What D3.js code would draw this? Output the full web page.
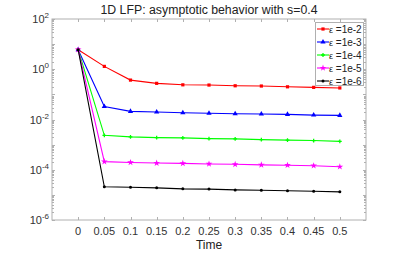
<!DOCTYPE html>
<html>
<head>
<meta charset="utf-8">
<style>
  body { margin: 0; background: #fff; }
  text { font-family: "Liberation Sans", Arial, sans-serif; }
</style>
</head>
<body>
<script src="https://cdn.jsdelivr.net/npm/d3@7"></script>
<script>
var times = [0, 0.05, 0.1, 0.15, 0.2, 0.25, 0.3, 0.35, 0.4, 0.45, 0.5];
var xTicks = [0, 0.05, 0.1, 0.15, 0.2, 0.25, 0.3, 0.35, 0.4, 0.45, 0.5];
var yTicks = [2, 0, -2, -4, -6];
var labels = ["1e-2", "1e-3", "1e-4", "1e-5", "1e-6"];
var colors = ["#ff0000", "#0000ff", "#00ff00", "#ff00ff", "#000000"];
var markers = ["square", "triangle", "cross", "star", "circle"];

var eps2 = [6.0, 1.3, 0.37, 0.275, 0.24, 0.235, 0.22, 0.215, 0.2, 0.19, 0.18];
var eps3 = [6.0, 0.033, 0.021, 0.020, 0.0186, 0.0178, 0.017, 0.0166, 0.016, 0.015, 0.0146];
var eps4 = [6.0, 0.00235, 0.00204, 0.0019, 0.00186, 0.00174, 0.0017, 0.00158, 0.00151, 0.00145, 0.00135];
var eps5 = [6.0, 2.1e-4, 1.95e-4, 1.85e-4, 1.8e-4, 1.7e-4, 1.65e-4, 1.57e-4, 1.52e-4, 1.45e-4, 1.32e-4];
var eps6 = [6.0, 2.1e-5, 2.0e-5, 1.9e-5, 1.74e-5, 1.7e-5, 1.58e-5, 1.53e-5, 1.45e-5, 1.4e-5, 1.32e-5];
var series = [eps2, eps3, eps4, eps5, eps6];

var W = 405, H = 253;
var m = {left: 52, right: 39, top: 19, bottom: 33};

var svg = d3.select("body").append("svg")
    .attr("width", W).attr("height", H);

var x = d3.scaleLinear().domain([-0.05, 0.55]).range([m.left, W - m.right]);
var y = d3.scaleLog().domain([1e-6, 1e2]).range([H - m.bottom, m.top]);

var axisCol = "#b0b0b0";
var g = svg.append("g");

// frame
g.append("rect")
    .attr("x", m.left).attr("y", m.top)
    .attr("width", W - m.left - m.right).attr("height", H - m.top - m.bottom)
    .attr("fill", "none").attr("stroke", axisCol).attr("stroke-width", 1);

// x ticks top and bottom
xTicks.forEach(function(t){
  var px = Math.round(x(t)) + 0.5;
  g.append("line").attr("x1", px).attr("x2", px)
    .attr("y1", H - m.bottom).attr("y2", H - m.bottom - 3).attr("stroke", axisCol);
  g.append("line").attr("x1", px).attr("x2", px)
    .attr("y1", m.top).attr("y2", m.top + 3).attr("stroke", axisCol);
  g.append("text").attr("x", x(t)).attr("y", H - m.bottom + 15)
    .attr("text-anchor", "middle").attr("font-size", 11).attr("fill", "#333")
    .text(t === 0 ? "0" : d3.format("")(t));
});

// y ticks, major and minor, left and right
for (var e = -6; e <= 2; e++) {
  var py = Math.round(y(Math.pow(10, e))) + 0.5;
  [[m.left, m.left + 3], [W - m.right, W - m.right - 3]].forEach(function(s){
    g.append("line").attr("x1", s[0]).attr("x2", s[1]).attr("y1", py).attr("y2", py).attr("stroke", axisCol);
  });
  if (e < 2) {
    for (var k = 2; k <= 9; k++) {
      var pm = Math.round(y(k * Math.pow(10, e))) + 0.5;
      [[m.left, m.left + 2], [W - m.right, W - m.right - 2]].forEach(function(s){
        g.append("line").attr("x1", s[0]).attr("x2", s[1]).attr("y1", pm).attr("y2", pm).attr("stroke", axisCol);
      });
    }
  }
}

yTicks.forEach(function(e){
  var t = g.append("text").attr("x", m.left - 3).attr("y", y(Math.pow(10, e)) + 4)
    .attr("text-anchor", "end").attr("font-size", 11).attr("fill", "#333");
  t.append("tspan").text("10");
  t.append("tspan").attr("dy", -5).attr("font-size", 8).text(String(e));
});

// title and x label
svg.append("text").attr("x", (m.left + W - m.right) / 2).attr("y", 14)
  .attr("text-anchor", "middle").attr("font-size", 12.3).attr("fill", "#222")
  .text("1D LFP: asymptotic behavior with s=0.4");
svg.append("text").attr("x", (m.left + W - m.right) / 2).attr("y", 249)
  .attr("text-anchor", "middle").attr("font-size", 12).attr("fill", "#222")
  .text("Time");

var line = d3.line().x(function(d, i){ return x(times[i]); }).y(function(d){ return y(d); });

function drawMarker(sel, type, cx, cy, col) {
  if (type === "square") {
    sel.append("rect").attr("x", cx - 1.6).attr("y", cy - 1.6).attr("width", 3.2).attr("height", 3.2).attr("fill", col);
  } else if (type === "triangle") {
    sel.append("path").attr("d", d3.symbol().type(d3.symbolTriangle).size(12)()).attr("transform", "translate(" + cx + "," + cy + ")").attr("fill", col);
  } else if (type === "cross") {
    sel.append("path").attr("d", d3.symbol().type(d3.symbolCross).size(8)()).attr("transform", "translate(" + cx + "," + cy + ")").attr("fill", col);
  } else if (type === "star") {
    sel.append("path").attr("d", d3.symbol().type(d3.symbolStar).size(14)()).attr("transform", "translate(" + cx + "," + cy + ")").attr("fill", col);
  } else {
    sel.append("circle").attr("cx", cx).attr("cy", cy).attr("r", 1.5).attr("fill", col);
  }
}

series.forEach(function(vals, si){
  var sg = svg.append("g");
  sg.append("path").datum(vals).attr("d", line)
    .attr("fill", "none").attr("stroke", colors[si]).attr("stroke-width", 1.1);
  vals.forEach(function(v, i){ drawMarker(sg, markers[si], x(times[i]), y(v), colors[si]); });
});

// legend
var lg = svg.append("g");
lg.append("rect").attr("x", 315.5).attr("y", 22.5).attr("width", 48).attr("height", 63)
  .attr("fill", "#fff").attr("stroke", axisCol);
labels.forEach(function(l, i){
  var ly = 29 + i * 13;
  lg.append("line").attr("x1", 317).attr("x2", 329).attr("y1", ly).attr("y2", ly)
    .attr("stroke", colors[i]).attr("stroke-width", 1.1);
  drawMarker(lg, markers[i], 323, ly, colors[i]);
  var t = lg.append("text").attr("x", 329).attr("y", ly + 4).attr("font-size", 10).attr("fill", "#222");
  t.append("tspan").attr("font-size", 9).text("\u03b5");
  t.append("tspan").text(" =" + l);
});
</script>
</body>
</html>
